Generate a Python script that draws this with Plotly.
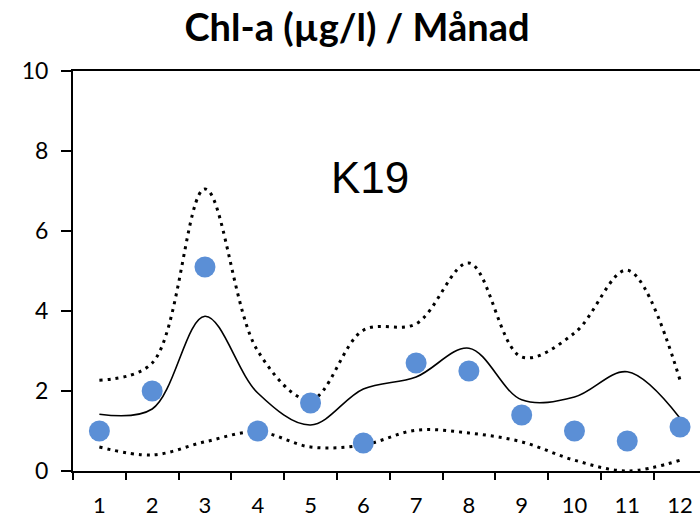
import plotly.graph_objects as go

months = list(range(1, 13))
month_labels = [str(m) for m in months]

# Monthly measured chlorophyll-a (µg/l)
measured = [1.0, 2.0, 5.1, 1.0, 1.7, 0.7, 2.7, 2.5, 1.4, 1.0, 0.75, 1.1]
# Long-term monthly mean and upper/lower bounds
mean_line = [1.42, 1.55, 3.87, 1.95, 1.15, 2.05, 2.35, 3.07, 1.78, 1.85, 2.48, 1.32]
upper_line = [2.27, 2.7, 7.05, 3.0, 1.78, 3.52, 3.68, 5.2, 2.85, 3.45, 5.02, 2.27]
lower_line = [0.6, 0.4, 0.73, 0.98, 0.6, 0.65, 1.02, 0.95, 0.73, 0.27, 0.0, 0.27]

y_ticks = [0, 2, 4, 6, 8, 10]

fig = go.Figure()

fig.add_trace(go.Scatter(
    x=months, y=upper_line, mode="lines",
    line=dict(color="black", width=3, dash="3px,5px", shape="spline", smoothing=1.0),
    hoverinfo="skip", showlegend=False,
))
fig.add_trace(go.Scatter(
    x=months, y=lower_line, mode="lines",
    line=dict(color="black", width=3, dash="3px,5px", shape="spline", smoothing=1.0),
    hoverinfo="skip", showlegend=False,
))
fig.add_trace(go.Scatter(
    x=months, y=mean_line, mode="lines",
    line=dict(color="black", width=1.6, shape="spline", smoothing=1.0),
    hoverinfo="skip", showlegend=False,
))
fig.add_trace(go.Scatter(
    x=months, y=measured, mode="markers",
    marker=dict(color="#5B8FD6", size=21, line=dict(width=0)),
    showlegend=False,
))

fig.add_annotation(
    x=0.473, y=0.80, xref="paper", yref="paper",
    text="K19", showarrow=False,
    font=dict(family="Liberation Sans, Arial", size=44, color="black"),
)

fig.update_layout(
    width=700, height=519,
    margin=dict(l=73, r=0, t=71, b=48, autoexpand=False),
    paper_bgcolor="white", plot_bgcolor="white",
    title=dict(
        text="<b>Chl-a (µg/l) / Månad</b>",
        x=0.51, xanchor="center", y=0.947, yanchor="middle",
        font=dict(family="Lato, Open Sans", size=38, color="black"),
    ),
    font=dict(family="Lato, Open Sans", size=23, color="black"),
)

fig.update_xaxes(
    range=[0.5, 12.378], automargin=False,
    tickvals=months, ticktext=month_labels,
    ticks="", showgrid=False, zeroline=False,
    showline=True, linecolor="black", linewidth=2, mirror=True,
    ticklabelstandoff=14,
    tickfont=dict(family="Lato, Open Sans", size=22, color="black"),
    minor=dict(ticks="outside", tick0=0.5, dtick=1, ticklen=7, tickwidth=2,
               tickcolor="black", showgrid=False),
)
fig.update_yaxes(
    range=[0, 10], automargin=False,
    tickvals=y_ticks, ticktext=[str(v) for v in y_ticks],
    ticks="outside", ticklen=10, tickwidth=2, tickcolor="black",
    showgrid=False, zeroline=False,
    showline=True, linecolor="black", linewidth=2,
    ticklabelstandoff=8,
    tickfont=dict(family="Lato, Open Sans", size=23, color="black"),
)

fig.write_html("out.html")
